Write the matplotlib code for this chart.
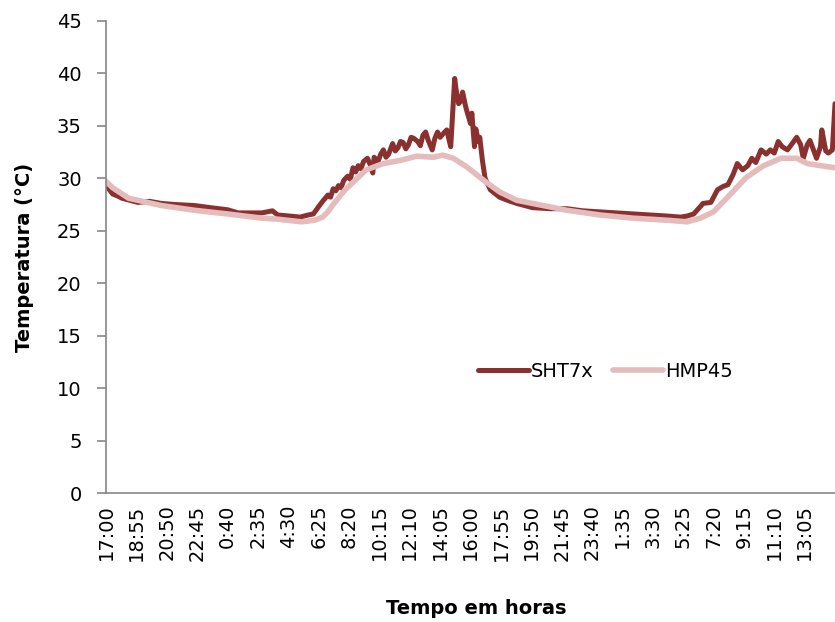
import numpy as np
import matplotlib.pyplot as plt

# time axis: sample index, one sample every 5 minutes starting at 17:00
tick_labels = ["17:00", "18:55", "20:50", "22:45", "0:40", "2:35", "4:30", "6:25",
               "8:20", "10:15", "12:10", "14:05", "16:00", "17:55", "19:50", "21:45",
               "23:40", "1:35", "3:30", "5:25", "7:20", "9:15", "11:10", "13:05"]

# SHT7x readings (sample index, temperature in C)
sht_idx = [0, 2, 5, 9, 12, 18, 24, 33, 42, 52, 67, 79, 92, 100, 109, 118, 126, 130,
           139, 147, 153, 157, 161, 164, 168, 170, 172, 174, 176, 178, 180, 183, 185,
           187, 189, 191, 193, 195, 198, 200, 202, 203, 206, 208, 210, 212, 214, 217,
           219, 221, 223, 225, 227, 229, 231, 233, 236, 238, 240, 242, 244, 247,
           249, 251, 253, 255, 258, 261, 264, 265, 267, 269, 270, 272, 273, 276, 277,
           279, 280, 282, 283, 285, 287, 291, 295, 298, 304, 311, 317, 323, 336, 349,
           361, 374, 387, 399, 412, 425, 435, 440, 445, 450, 452, 458, 463, 467, 471,
           475, 478, 482, 486, 489, 492, 496, 500, 503, 506, 509, 512, 516, 519, 523,
           526, 528, 531, 533, 536, 538, 541, 542, 545, 547, 550, 552]
sht_temp = [29.6, 29.0, 28.5, 28.3, 28.1, 27.9, 27.7, 27.8, 27.6, 27.5, 27.4, 27.2,
            27.0, 26.7, 26.7, 26.7, 26.9, 26.5, 26.4, 26.3, 26.5, 26.6, 27.3, 27.8,
            28.4, 28.2, 29.0, 28.8, 29.3, 29.1, 29.8, 30.2, 29.9, 31.0, 30.6, 31.2,
            30.9, 31.6, 31.9, 31.3, 30.5, 32.0, 31.6, 32.3, 32.7, 32.0, 32.3, 33.3,
            32.6, 32.9, 33.5, 33.4, 32.8, 33.2, 33.9, 33.8, 33.5, 33.1, 34.1, 34.4,
            33.6, 32.7, 33.8, 34.4, 33.9, 34.2, 34.6, 33.0, 39.5, 38.5, 37.1, 37.4,
            38.2, 37.0, 36.5, 35.2, 36.2, 33.0, 34.7, 33.5, 33.9, 31.7, 30.0, 28.9,
            28.5, 28.2, 27.9, 27.6, 27.4, 27.2, 27.1, 27.1, 26.9, 26.8, 26.7, 26.6,
            26.5, 26.4, 26.3, 26.4, 26.6, 27.3, 27.6, 27.7, 28.9, 29.2, 29.4, 30.4,
            31.4, 30.8, 31.2, 31.9, 31.5, 32.7, 32.3, 32.7, 32.4, 33.5, 33.0, 32.7,
            33.2, 33.9, 33.2, 31.9, 33.2, 33.6, 32.6, 31.9, 33.0, 34.6, 32.6, 32.4,
            32.7, 37.1]

# HMP45 readings (sample index, temperature in C)
hmp_idx = [0, 5, 17, 42, 67, 92, 118, 130, 148, 158, 164, 168, 172, 181, 197, 210,
           223, 235, 248, 255, 263, 273, 286, 298, 311, 323, 349, 374, 399, 425, 440,
           450, 460, 473, 485, 498, 511, 523, 531, 541, 552]
hmp_temp = [29.7, 29.1, 28.1, 27.4, 26.95, 26.6, 26.2, 26.1, 25.85, 26.0, 26.3, 26.8,
            27.5, 28.9, 30.8, 31.4, 31.7, 32.1, 32.0, 32.2, 31.9, 31.1, 29.8, 28.7,
            27.9, 27.6, 26.95, 26.5, 26.2, 26.0, 25.85, 26.2, 26.8, 28.5, 30.1, 31.2,
            31.9, 31.9, 31.4, 31.2, 31.0]

plt.rcParams['font.family'] = ['DejaVu Sans']
grey = '#868686'

fig = plt.figure(figsize=(8.35, 6.22), dpi=100)
ax = fig.add_axes([0.127, 0.2069, 0.873, 0.7598])

ax.plot(sht_idx, sht_temp, color='#8A3130', lw=3.6, label='SHT7x',
        solid_joinstyle='round', solid_capstyle='round')
ax.plot(hmp_idx, hmp_temp, color='#E3BCBB', lw=4.0, label='HMP45',
        solid_joinstyle='round', solid_capstyle='round')

ax.set_xlim(0, 552)
ax.set_ylim(0, 45)
ax.set_yticks(np.arange(0, 46, 5))
ax.set_xticks(np.arange(len(tick_labels)) * 23)
ax.set_xticklabels(tick_labels, rotation=90, fontsize=14)

for s in ['top', 'right']:
    ax.spines[s].set_visible(False)
for s in ['left', 'bottom']:
    ax.spines[s].set_color(grey)
    ax.spines[s].set_linewidth(1.2)

ax.tick_params(axis='y', direction='out', length=6.5, width=1.2, color=grey,
               labelsize=14, pad=11)
ax.tick_params(axis='x', length=0, pad=8)

ax.set_ylabel('Temperatura (°C)', fontsize=14, fontweight='bold', va='center')
ax.yaxis.set_label_coords(-0.1125, 0.5)
ax.set_xlabel('Tempo em horas', fontsize=14, fontweight='bold', va='center')
ax.xaxis.set_label_coords(0.508, -0.243)

ax.legend(loc='center left', bbox_to_anchor=(0.5103, 0.2588), ncol=2,
          frameon=False, fontsize=14, handlelength=2.6, handletextpad=0.1,
          columnspacing=1.0, borderpad=0, borderaxespad=0)

fig.savefig('out.png', dpi=100)
